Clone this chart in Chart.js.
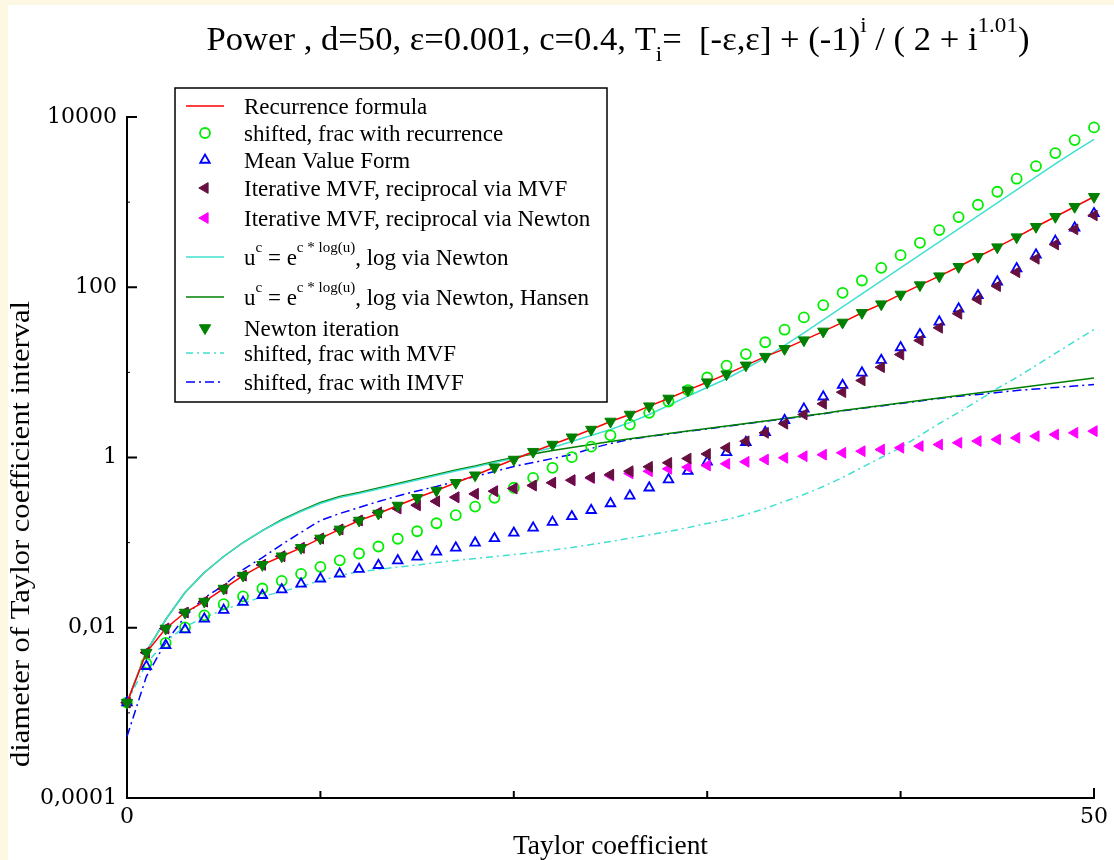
<!DOCTYPE html>
<html lang="en">
<head>
<meta charset="UTF-8">
<title>Power, d=50 - diameter of Taylor coefficient interval</title>
<script src="https://cdn.jsdelivr.net/npm/chart.js@4/dist/chart.umd.min.js"></script>
<style>
  html, body { margin: 0; padding: 0; background: #fdf8e4; }
  #frame { position: absolute; left: 8px; top: 5px; width: 1106px; height: 855px; background: #fff; }
  canvas { display: block; }
</style>
</head>
<body>
<div id="frame"><canvas id="c" width="1106" height="855"></canvas></div>

<script>
// ── data ───────────────────────────────────────────────────────────────────
const coeff = [0,1,2,3,4,5,6,7,8,9,10,11,12,13,14,15,16,17,18,19,20,21,22,23,24,25,
  26,27,28,29,30,31,32,33,34,35,36,37,38,39,40,41,42,43,44,45,46,47,48,49,50];

const recurrence = [0.00132,0.00511,0.0098,0.0151,0.0203,0.0289,0.041,0.0548,0.0692,0.0869,0.112,
  0.143,0.182,0.22,0.273,0.336,0.409,0.505,0.619,0.769,0.947,
  1.17,1.42,1.73,2.13,2.65,3.2,4.01,4.94,6.18,7.67,
  9.53,12.1,15.3,18.9,23.9,30.3,38.6,50.1,63.3,82.3,
  106,135,174,228,296,388,514,673,883,1157];

const shiftedRec = [0.00132,0.0038,0.00665,0.0101,0.014,0.0189,0.0234,0.0289,0.0356,0.043,0.052,
  0.062,0.0745,0.09,0.111,0.136,0.169,0.21,0.265,0.336,0.441,
  0.577,0.757,1.01,1.34,1.82,2.44,3.35,4.55,6.18,8.71,
  12.0,16.4,22.6,31.7,44.2,61.7,86.1,120,169,238,
  333,469,667,931,1324,1884,2649,3767,5358,7551];

const meanValue = [0.00132,0.00353,0.00622,0.00953,0.0127,0.0161,0.02,0.0241,0.0281,0.0328,0.0376,
  0.043,0.0487,0.0542,0.0616,0.0681,0.078,0.0869,0.0995,0.112,0.13,
  0.149,0.174,0.203,0.24,0.288,0.355,0.441,0.551,0.69,0.889,
  1.15,1.51,1.98,2.74,3.73,5.17,7.07,9.89,13.9,19.6,
  27.9,39.3,55.9,80.1,116,166,241,348,500,736];

const imvfViaMvf = [0.00132,0.00511,0.0098,0.0151,0.0203,0.0289,0.041,0.0548,0.0692,0.0869,0.112,
  0.143,0.182,0.226,0.252,0.275,0.306,0.341,0.374,0.402,0.433,
  0.469,0.505,0.541,0.582,0.631,0.69,0.778,0.867,0.973,1.10,
  1.30,1.55,1.95,2.49,3.20,4.27,5.85,8.03,11.5,16.2,
  23.7,33.4,48.8,71.9,103,150,216,318,478,698];

const imvfViaNewton = [0.00132,0.00511,0.0098,0.0151,0.0203,0.0289,0.041,0.0548,0.0692,0.0869,0.112,
  0.143,0.182,0.226,0.252,0.275,0.306,0.341,0.374,0.402,0.433,
  0.469,0.505,0.541,0.574,0.614,0.649,0.69,0.736,0.77,0.805,
  0.843,0.889,0.946,0.991,1.035,1.08,1.135,1.186,1.24,1.30,
  1.36,1.42,1.49,1.56,1.63,1.70,1.78,1.86,1.95,2.04];

const powNewton = [0.00132,0.00525,0.0125,0.0259,0.0446,0.0687,0.1003,0.1387,0.182,0.232,0.288,
  0.339,0.378,0.426,0.482,0.544,0.614,0.694,0.773,0.873,0.973,
  1.145,1.31,1.54,1.81,2.13,2.58,3.20,4.08,5.25,6.65,
  8.41,11.1,14.8,20.7,29.2,41.3,59.0,83.4,119,169,
  240,341,484,689,979,1391,1977,2811,3943,5455];

const powHansen = [0.00132,0.00525,0.0125,0.0259,0.0446,0.0687,0.1003,0.1387,0.1867,0.238,0.296,
  0.348,0.388,0.438,0.495,0.559,0.631,0.713,0.794,0.897,1.0,
  1.10,1.21,1.31,1.42,1.54,1.66,1.78,1.91,2.05,2.19,
  2.34,2.51,2.68,2.87,3.07,3.29,3.57,3.82,4.08,4.37,
  4.67,5.00,5.35,5.73,6.13,6.56,7.02,7.50,8.03,8.59];

const newtonIter = [0.00132,0.00511,0.0098,0.0151,0.0203,0.0289,0.041,0.0548,0.0692,0.0869,0.112,
  0.143,0.182,0.22,0.273,0.336,0.409,0.505,0.619,0.769,0.947,
  1.17,1.42,1.73,2.13,2.65,3.2,4.01,4.94,6.18,7.67,
  9.53,12.1,15.3,18.9,23.9,30.3,38.6,50.1,63.3,82.3,
  106,135,174,228,296,388,514,673,883,1157];

const shiftedMvf = [0.00132,0.0038,0.00688,0.01033,0.01318,0.01637,0.01925,0.02327,0.02663,0.0305,0.0359,
  0.0411,0.0457,0.0483,0.0517,0.0545,0.0584,0.0616,0.065,0.0687,0.0725,
  0.0765,0.0819,0.0876,0.095,0.103,0.113,0.123,0.135,0.15,0.168,
  0.187,0.214,0.252,0.304,0.367,0.456,0.582,0.763,1.0,1.31,
  1.81,2.51,3.38,4.67,6.47,8.71,12.05,16.7,23.1,31.9];

const shiftedImvf = [0.000527,0.00267,0.0067,0.01354,0.0226,0.0313,0.0483,0.0668,0.095,0.132,0.182,
  0.22,0.2585,0.304,0.353,0.404,0.456,0.522,0.598,0.685,0.784,
  0.873,0.973,1.084,1.276,1.46,1.63,1.77,1.89,2.03,2.17,
  2.32,2.49,2.66,2.85,3.05,3.26,3.53,3.78,4.04,4.32,
  4.61,4.93,5.25,5.5,5.8,6.13,6.38,6.65,6.92,7.21];

const yTickValues = [0.0001, 0.01, 1, 100, 10000];
const yTickLabels = ['0,0001', '0,01', '1', '100', '10000'];
const yMinorTicks = [0.001, 0.1, 10, 1000];
const xTickValues = [0, 10, 20, 30, 40, 50];
const xTickLabels = ['0', '', '', '', '', '50'];

// ── styles ──────────────────────────────────────────────────────────────────
const C = {
  red: '#ff0000', lime: '#00ee00', blue: '#0000ff', maroon: '#66103f',
  magenta: '#ff00ff', turq: '#40e0d0', green: '#008000'
};
const SERIF = '"Liberation Serif", "Times New Roman", serif';
const OX = 8, OY = 5;   // canvas offset inside the page

const pts = arr => coeff.map((x, i) => ({ x, y: arr[i] }));

function lineSet(label, arr, color, dash, order) {
  return { label, data: pts(arr), borderColor: color, borderWidth: 1.5, borderDash: dash || [],
    pointRadius: 0, showLine: true, fill: false, tension: 0, order, clip: false };
}
function markSet(label, arr, style, rot, r, stroke, fillC, order) {
  return { label, data: pts(arr), showLine: false, pointStyle: style, pointRotation: rot,
    pointRadius: r, pointBorderColor: stroke, pointBackgroundColor: fillC || 'rgba(0,0,0,0)',
    pointBorderWidth: fillC ? 1 : 1.8, order, clip: false };
}

// legend rows (page y of row centre)
const legendRows = [
  { y: 106, kind: 'line', color: C.red, text: [['Recurrence formula']] },
  { y: 133, kind: 'circle', color: C.lime, text: [['shifted, frac with recurrence']] },
  { y: 160, kind: 'triangle', rot: 0, r: 5.5, color: C.blue, open: true, text: [['Mean Value Form']] },
  { y: 188, kind: 'triangle', rot: -90, r: 6.2, color: C.maroon, text: [['Iterative MVF, reciprocal via MVF']] },
  { y: 218, kind: 'triangle', rot: -90, r: 6.2, color: C.magenta, text: [['Iterative MVF, reciprocal via Newton']] },
  { y: 257, kind: 'line', color: C.turq,
    text: [['u'], ['c', 1], [' = e'], ['c * log(u)', 1], [', log via Newton']] },
  { y: 297, kind: 'line', color: C.green,
    text: [['u'], ['c', 1], [' = e'], ['c * log(u)', 1], [', log via Newton, Hansen']] },
  { y: 328, kind: 'triangle', rot: 180, r: 6.5, color: C.green, text: [['Newton iteration']] },
  { y: 353, kind: 'line', color: C.turq, dash: [7, 4, 2, 4], text: [['shifted, frac with MVF']] },
  { y: 382, kind: 'line', color: C.blue, dash: [9, 4, 2, 4], text: [['shifted, frac with IMVF']] }
];

function drawMarker(ctx, kind, x, y, r, rot, stroke, fillC, lw) {
  ctx.save();
  ctx.translate(x, y);
  ctx.beginPath();
  if (kind === 'circle') {
    ctx.arc(0, 0, r, 0, Math.PI * 2);
  } else {
    let a = (rot || 0) * Math.PI / 180;
    for (let k = 0; k < 3; k++) {
      ctx.lineTo(Math.sin(a) * r, -Math.cos(a) * r);
      a += Math.PI * 2 / 3;
    }
    ctx.closePath();
  }
  if (fillC) { ctx.fillStyle = fillC; ctx.fill(); }
  ctx.lineWidth = lw; ctx.strokeStyle = stroke; ctx.stroke();
  ctx.restore();
}

// parts: [text, sup(1)/sub(-1)]
function drawRich(ctx, parts, x, y, size, align, targetW) {
  const small = Math.round(size * 0.66);
  let widths = parts.map(p => {
    ctx.font = (p[1] ? small : size) + 'px ' + SERIF;
    return ctx.measureText(p[0]).width;
  });
  const total = widths.reduce((a, b) => a + b, 0);
  const sx = targetW ? targetW / total : 1;
  const x0 = align === 'center' ? x - total * sx / 2 : x;
  ctx.save();
  ctx.translate(x0, y);
  ctx.scale(sx, 1);
  ctx.fillStyle = '#000';
  ctx.textBaseline = 'alphabetic';
  ctx.textAlign = 'left';
  let cx = 0;
  parts.forEach((p, i) => {
    ctx.font = (p[1] ? small : size) + 'px ' + SERIF;
    const dy = p[1] === 1 ? -size * 0.55 : p[1] === -1 ? size * 0.33 : 0;
    ctx.fillText(p[0], cx, dy);
    cx += widths[i];
  });
  ctx.restore();
}

const decorPlugin = {
  id: 'decor',
  afterDraw(chart) {
    const ctx = chart.ctx, xs = chart.scales.x, ys = chart.scales.y;
    const a = chart.chartArea;
    ctx.save();
    ctx.strokeStyle = '#000';
    ctx.lineWidth = 2;
    // inward tick marks
    yTickValues.forEach(v => {
      const py = ys.getPixelForValue(v);
      ctx.beginPath(); ctx.moveTo(a.left, py); ctx.lineTo(a.left + 10, py); ctx.stroke();
    });
    ctx.lineWidth = 1;
    yMinorTicks.forEach(v => {
      const py = ys.getPixelForValue(v);
      ctx.beginPath(); ctx.moveTo(a.left, py); ctx.lineTo(a.left + 3, py); ctx.stroke();
    });
    ctx.lineWidth = 2;
    xTickValues.slice(1).forEach(v => {
      const px = xs.getPixelForValue(v);
      const len = v === 50 ? 10 : 7;
      ctx.beginPath(); ctx.moveTo(px, a.bottom); ctx.lineTo(px, a.bottom - len); ctx.stroke();
    });

    // title
    drawRich(ctx, [
      ['Power , d=50, \u03b5=0.001, c=0.4, T'], ['i', -1], ['=  [-\u03b5,\u03b5] + (-1)'], ['i', 1],
      [' / ( 2 + i'], ['1.01', 1], [')']
    ], 618 - OX, 50 - OY, 33, 'center', 823);

    // axis titles
    ctx.fillStyle = '#000';
    ctx.font = '27px ' + SERIF;
    ctx.textAlign = 'center';
    ctx.textBaseline = 'middle';
    const xt = 'Taylor coefficient';
    ctx.save();
    ctx.translate((a.left + a.right) / 2, 847 - OY);
    ctx.scale(195 / ctx.measureText(xt).width, 1);
    ctx.fillText(xt, 0, 0);
    ctx.restore();
    const yt = 'diameter of Taylor coefficient interval';
    ctx.save();
    ctx.translate(22 - OX, 534 - OY);
    ctx.rotate(-Math.PI / 2);
    ctx.scale(466 / ctx.measureText(yt).width, 1);
    ctx.fillText(yt, 0, 0);
    ctx.restore();

    // legend box
    const bx = 175 - OX, by = 88 - OY, bw = 432, bh = 314;
    ctx.fillStyle = '#fff';
    ctx.fillRect(bx, by, bw, bh);
    ctx.strokeStyle = '#000';
    ctx.lineWidth = 1.5;
    ctx.strokeRect(bx, by, bw, bh);
    legendRows.forEach(row => {
      const cy = row.y - OY;
      if (row.kind === 'line') {
        ctx.save();
        ctx.strokeStyle = row.color; ctx.lineWidth = 1.5;
        ctx.setLineDash(row.dash || []);
        ctx.beginPath(); ctx.moveTo(186 - OX, cy); ctx.lineTo(224 - OX, cy); ctx.stroke();
        ctx.restore();
      } else if (row.kind === 'circle') {
        drawMarker(ctx, 'circle', 205 - OX, cy, 5, 0, row.color, null, 1.8);
      } else {
        drawMarker(ctx, 'triangle', 205 - OX, cy, row.r, row.rot, row.color,
          row.open ? null : row.color, row.open ? 1.8 : 1);
      }
      drawRich(ctx, row.text, 244 - OX, cy + 8, 23, 'left');
    });
    ctx.restore();
  }
};

new Chart(document.getElementById('c'), {
  type: 'scatter',
  data: {
    datasets: [
      markSet('Newton iteration', newtonIter, 'triangle', 180, 6.5, C.green, C.green, 0),
      lineSet('Recurrence formula', recurrence, C.red, null, 1),
      markSet('Iterative MVF, reciprocal via MVF', imvfViaMvf, 'triangle', -90, 6.2, C.maroon, C.maroon, 2),
      markSet('Iterative MVF, reciprocal via Newton', imvfViaNewton, 'triangle', -90, 6.2, C.magenta, C.magenta, 3),
      markSet('Mean Value Form', meanValue, 'triangle', 0, 5.5, C.blue, null, 4),
      markSet('shifted, frac with recurrence', shiftedRec, 'circle', 0, 5, C.lime, null, 5),
      lineSet('u^c = e^(c*log(u)), log via Newton', powNewton, C.turq, null, 6),
      lineSet('u^c = e^(c*log(u)), log via Newton, Hansen', powHansen, C.green, null, 7),
      lineSet('shifted, frac with MVF', shiftedMvf, C.turq, [7, 4, 2, 4], 8),
      lineSet('shifted, frac with IMVF', shiftedImvf, C.blue, [9, 4, 2, 4], 9)
    ]
  },
  options: {
    responsive: false,
    animation: false,
    devicePixelRatio: 1,
    events: [],
    layout: { padding: { left: 0, right: 15, top: 112, bottom: 0 } },
    plugins: { legend: { display: false }, title: { display: false }, tooltip: { enabled: false } },
    scales: {
      x: {
        type: 'linear', min: 0, max: 50,
        grid: { display: false, drawTicks: false },
        border: { display: true, color: '#000', width: 2 },
        afterBuildTicks: s => { s.ticks = xTickValues.map(v => ({ value: v })); },
        afterFit: s => { s.height = 62; },
        ticks: {
          autoSkip: false, maxRotation: 0, padding: 6, color: '#000',
          font: { family: '"DejaVu Serif", serif', size: 22 },
          callback: (v, i) => xTickLabels[i]
        }
      },
      y: {
        type: 'logarithmic', min: 0.0001, max: 10000,
        grid: { display: false, drawTicks: false },
        border: { display: true, color: '#000', width: 2 },
        afterBuildTicks: s => { s.ticks = yTickValues.map(v => ({ value: v })); },
        afterFit: s => { s.width = 119; },
        ticks: {
          autoSkip: false, padding: 10, color: '#000',
          font: { family: '"DejaVu Serif", serif', size: 22 },
          callback: (v, i) => yTickLabels[i]
        }
      }
    }
  },
  plugins: [decorPlugin]
});
</script>
</body>
</html>
